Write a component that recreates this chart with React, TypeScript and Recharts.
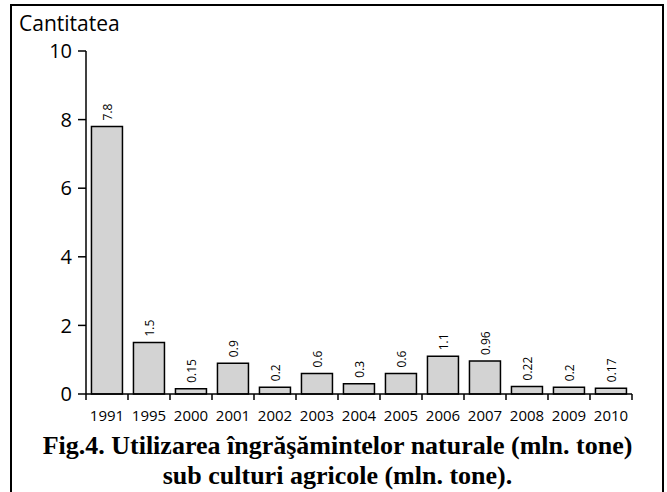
import React from 'react';
import { BarChart, Bar, XAxis, YAxis, LabelList } from 'recharts';

const years = ['1991', '1995', '2000', '2001', '2002', '2003', '2004', '2005', '2006', '2007', '2008', '2009', '2010'];
const amounts = [7.8, 1.5, 0.15, 0.9, 0.2, 0.6, 0.3, 0.6, 1.1, 0.96, 0.22, 0.2, 0.17];
const yTicks = [0, 2, 4, 6, 8, 10];

const data = years.map((year, i) => ({ year, amount: amounts[i] }));

const SANS = '"Open Sans", "DejaVu Sans", sans-serif';
const SERIF = '"Liberation Serif", "DejaVu Serif", serif';

const WIDTH = 667;
const HEIGHT = 492;
const margin = { top: 51, right: 35, bottom: 78, left: 10 };
const yAxisWidth = 76;
const band = (WIDTH - margin.left - yAxisWidth - margin.right) / years.length;

function YearTick(props: any) {
  const { x, y, payload, index } = props;
  const top = y - 6;
  return (
    <g>
      <line x1={x - band / 2} y1={top} x2={x - band / 2} y2={top + 6} stroke="#000" strokeWidth={1.5} />
      {index === years.length - 1 && (
        <line x1={x + band / 2} y1={top} x2={x + band / 2} y2={top + 6} stroke="#000" strokeWidth={1.5} />
      )}
      <text x={x} y={y + 21} textAnchor="middle" fontSize={15} fontFamily={SANS} fill="#000">
        {payload.value}
      </text>
    </g>
  );
}

function ValueLabel(props: any) {
  const { x, y, width, value } = props;
  const cx = x + width / 2 + 1;
  const cy = y - 6;
  return (
    <text
      x={cx}
      y={cy}
      transform={`rotate(-90 ${cx} ${cy})`}
      textAnchor="start"
      dominantBaseline="central"
      fontSize={12}
      fontFamily={SANS}
      fill="#000"
    >
      {value}
    </text>
  );
}

export default function App() {
  return (
    <div style={{ position: 'absolute', left: 0, top: 0, width: WIDTH, height: HEIGHT, overflow: 'hidden', background: '#fff' }}>
      <div
        style={{
          position: 'absolute',
          left: 10,
          top: 4,
          width: 650,
          height: 500,
          border: '2px solid #000',
        }}
      />
      <BarChart width={WIDTH} height={HEIGHT} data={data} margin={margin} barCategoryGap="13%">
        <XAxis
          dataKey="year"
          axisLine={{ stroke: '#000', strokeWidth: 1.5 }}
          tickLine={false}
          tickSize={6}
          tickMargin={0}
          interval={0}
          height={20}
          tick={<YearTick />}
        />
        <YAxis
          domain={[0, 10]}
          ticks={yTicks}
          width={yAxisWidth}
          tickSize={8}
          tickMargin={6}
          axisLine={{ stroke: '#000', strokeWidth: 1.5 }}
          tickLine={{ stroke: '#000', strokeWidth: 1.5 }}
          tick={{ fontSize: 20, fontFamily: SANS, fill: '#000' }}
        />
        <Bar dataKey="amount" fill="#d3d3d3" stroke="#000" strokeWidth={1.5} isAnimationActive={false}>
          <LabelList dataKey="amount" content={<ValueLabel />} />
        </Bar>
      </BarChart>
      <svg width={WIDTH} height={HEIGHT} style={{ position: 'absolute', left: 0, top: 0, pointerEvents: 'none' }}>
        <text x={19} y={31} fontSize={21} fontFamily={SANS} fill="#000">
          Cantitatea
        </text>
        <text x={337.5} y={454} textAnchor="middle" fontSize={26} fontWeight="bold" fontFamily={SERIF} fill="#000">
          Fig.4. Utilizarea îngrăşămintelor naturale (mln. tone)
        </text>
        <text x={337.5} y={484} textAnchor="middle" fontSize={26} fontWeight="bold" fontFamily={SERIF} fill="#000">
          sub culturi agricole (mln. tone).
        </text>
      </svg>
    </div>
  );
}
